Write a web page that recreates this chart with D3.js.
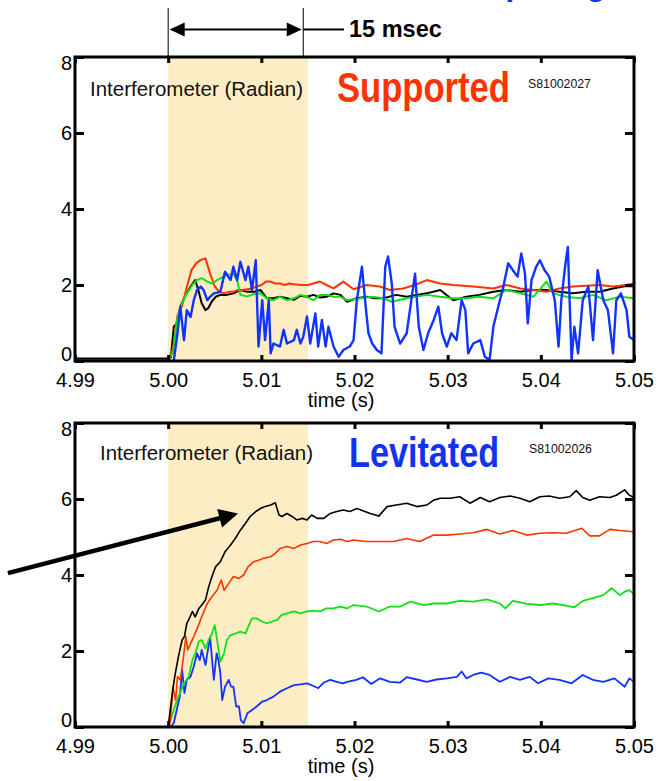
<!DOCTYPE html>
<html>
<head>
<meta charset="utf-8">
<script src="https://cdn.jsdelivr.net/npm/d3@7/dist/d3.min.js"></script>
<style>
body { margin: 0; background: #fff; }
svg { display: block; font-family: "Liberation Sans", Arial, Helvetica, sans-serif; }
</style>
</head>
<body>
<svg></svg>
<script>
let width = 661, height = 781;

// time axis (s) and interferometer axis (radian)
const xTicks = [4.99, 5.00, 5.01, 5.02, 5.03, 5.04, 5.05];
const xTickLabels = ["4.99", "5.00", "5.01", "5.02", "5.03", "5.04", "5.05"];
const yTicks = [0, 2, 4, 6, 8];
const yTickLabels = ["0", "2", "4", "6", "8"];
const shadeWindow = [5.000, 5.015];

// series: [ms after 5.000 s, phase (radian)]
const preTrigger = [[-10, 0.06], [0, 0.06]];

const supBlack = [[0,0.06],[0.3,0.1],[0.6,0.9],[1.0,1.0],[1.3,1.43],[1.8,1.7],[2.4,1.96],[2.9,2.13],[3.2,1.9],[3.6,1.52],[4.0,1.34],[4.3,1.39],[4.7,1.57],[5.1,1.69],[5.6,1.74],[6.3,1.74],[7.0,1.78],[7.75,1.87],[8.5,1.82],[9.2,1.82],[9.9,1.87],[10.6,1.65],[11.3,1.65],[12.0,1.69],[12.75,1.65],[13.5,1.61],[14.2,1.72],[14.9,1.69],[15.6,1.74],[16.3,1.67],[17.0,1.69],[17.75,1.78],[18.5,1.74],[19.2,1.56],[20.2,1.65],[21.3,1.69],[22.2,1.65],[23.1,1.65],[24.5,1.74],[25.6,1.69],[26.7,1.74],[27.75,1.78],[29.2,1.87],[30.6,1.6],[32.0,1.69],[33.4,1.74],[34.9,1.82],[36.3,1.87],[37.8,1.82],[39.2,1.87],[40.6,1.87],[42.0,1.82],[43.4,1.78],[44.9,1.82],[46.3,1.82],[47.75,1.91],[49.1,1.97],[50,1.97]];
const supRed = [[0,0.05],[0.5,0.3],[1.0,1.2],[1.5,1.45],[2.0,1.95],[2.5,2.39],[3.0,2.57],[3.5,2.66],[4.0,2.7],[4.5,2.3],[5.0,1.96],[5.5,1.82],[6.0,1.78],[6.5,1.82],[7.0,1.82],[7.5,1.87],[8.0,1.87],[8.5,1.89],[9.0,1.91],[9.5,1.96],[10.0,2.0],[10.5,2.09],[11.0,2.09],[11.5,2.04],[12.0,2.04],[12.5,2.0],[13.0,2.04],[13.5,2.02],[14.2,2.0],[15.0,2.0],[16.3,2.09],[17.0,2.0],[17.75,1.91],[18.8,2.09],[19.9,1.89],[21.3,2.0],[22.7,1.96],[23.8,1.87],[25.2,1.91],[26.5,2.0],[27.75,2.13],[29.2,2.04],[30.6,2.0],[32.75,1.96],[34.9,1.91],[36.3,2.0],[37.8,1.91],[39.2,1.87],[40.6,1.82],[42.0,1.91],[43.4,1.96],[44.9,1.98],[46.3,2.0],[47.75,1.96],[49.1,2.0],[50,2.04]];
const supGreen = [[0,0.05],[0.5,0.2],[1.0,1.17],[1.5,1.52],[2.0,1.78],[2.6,2.0],[3.1,2.13],[3.6,2.18],[4.2,2.09],[4.7,2.04],[5.25,2.13],[5.8,2.2],[6.3,2.26],[7.0,2.3],[7.4,2.13],[7.75,1.74],[8.5,1.7],[9.2,1.76],[9.9,1.78],[10.6,1.65],[11.3,1.6],[12.0,1.69],[12.75,1.6],[13.5,1.65],[14.2,1.74],[14.9,1.69],[15.6,1.6],[16.3,1.74],[17.0,1.74],[17.75,1.69],[18.5,1.69],[19.2,1.6],[20.6,1.65],[21.9,1.69],[23.1,1.65],[24.0,1.56],[25.6,1.65],[27.75,1.74],[29.2,1.69],[30.6,1.65],[32.0,1.65],[33.4,1.69],[34.9,1.65],[36.3,1.87],[37.8,1.78],[39.2,1.69],[40.6,2.09],[41.3,1.78],[42.75,1.69],[44.1,1.65],[45.6,1.74],[47.0,1.6],[48.5,1.69],[50,1.65]];
const supBlue = [[0.6,0],[1.0,0.73],[1.3,1.43],[1.7,0.55],[2.0,1.34],[2.4,1.16],[2.75,1.6],[3.1,1.87],[3.5,1.96],[3.8,1.87],[4.2,1.6],[4.5,1.69],[4.9,1.78],[5.6,1.82],[6.1,2.35],[6.7,2.13],[7.0,2.48],[7.4,2.13],[7.75,2.61],[8.3,2.13],[8.6,2.48],[9.0,1.87],[9.4,2.65],[9.7,0.38],[10.1,1.6],[10.4,0.55],[10.8,1.6],[11.0,0.2],[11.3,0.46],[12.0,0.38],[12.4,0.82],[12.75,0.46],[13.5,0.55],[13.8,0.82],[14.2,0.46],[14.5,0.64],[14.9,1.17],[15.25,0.46],[15.8,1.25],[16.1,0.38],[16.5,1.08],[16.9,0.38],[17.2,0.9],[17.75,0.38],[18.3,0.11],[18.8,0.29],[19.5,0.38],[19.9,0.55],[20.25,1.6],[20.8,2.48],[21.2,1.43],[21.5,0.73],[21.9,0.46],[22.4,0.29],[22.9,0.2],[23.3,2.48],[23.6,2.75],[24.0,2.04],[24.3,0.9],[24.9,0.46],[25.6,0.73],[26.1,1.6],[26.5,2.3],[26.9,0.9],[27.4,0.29],[27.9,0.73],[28.5,1.08],[29.0,1.43],[29.4,0.73],[29.9,0.38],[30.4,0.73],[30.95,0.55],[31.5,1.6],[31.9,1.34],[32.2,0.2],[32.75,0.46],[33.5,0.55],[34.0,0.11],[34.5,0.03],[34.9,0.9],[35.6,1.6],[35.9,1.87],[36.5,2.57],[37.0,2.39],[37.5,2.22],[37.9,2.83],[38.3,2.3],[38.6,0.99],[39.0,2.13],[39.5,2.48],[39.9,2.65],[40.4,2.39],[40.9,2.22],[41.5,1.6],[41.9,0.38],[42.2,1.6],[42.6,2.48],[42.9,3.0],[43.3,0.03],[43.6,0.9],[44.0,0.2],[44.5,1.6],[45.1,1.96],[45.6,0.55],[46.1,2.39],[46.7,1.6],[47.2,1.34],[47.75,0.2],[48.1,1.6],[48.6,1.78],[49.2,1.34],[49.5,0.64],[50,0.55]];

const levBlack = [[0,0],[0.4,0.8],[0.7,1.32],[1.1,1.85],[1.5,2.29],[1.75,2.38],[2.0,2.73],[2.2,2.82],[2.6,3.04],[2.9,2.9],[3.3,3.12],[3.6,3.21],[4.0,3.34],[4.35,3.69],[4.7,3.96],[5.1,4.22],[5.6,4.35],[6.1,4.61],[6.7,4.79],[7.2,4.96],[7.75,5.18],[8.3,5.36],[8.8,5.54],[9.4,5.67],[9.9,5.75],[10.4,5.8],[11.0,5.84],[11.5,5.9],[11.9,5.58],[12.2,5.54],[12.75,5.62],[13.3,5.54],[13.8,5.45],[14.4,5.49],[14.9,5.45],[15.4,5.58],[16.0,5.49],[16.7,5.49],[17.4,5.62],[18.1,5.67],[18.8,5.71],[19.5,5.67],[20.25,5.75],[21.7,5.62],[22.6,5.55],[23.5,5.8],[24.5,5.84],[25.6,5.89],[26.7,5.8],[27.75,5.84],[28.5,5.97],[29.2,6.02],[30.25,6.02],[31.3,6.06],[32.4,5.89],[33.5,6.04],[34.5,5.93],[35.6,6.04],[36.7,6.08],[37.75,6.02],[38.8,5.93],[39.9,6.06],[40.9,6.08],[42.0,6.02],[43.1,6.06],[43.8,6.22],[44.5,6.04],[45.25,5.97],[46.3,6.06],[47.4,6.04],[48.1,6.1],[49.0,6.24],[49.5,6.1],[50,6.04]];
const levRed = [[0,0],[0.25,0.18],[0.5,1.06],[0.8,0.71],[1.0,1.32],[1.3,1.24],[1.6,1.76],[1.9,2.38],[2.1,2.03],[2.4,2.2],[2.75,2.38],[3.2,2.64],[3.6,2.9],[4.2,3.25],[4.7,3.43],[5.25,3.6],[5.7,3.87],[6.0,3.6],[6.5,3.78],[7.0,3.96],[7.6,3.91],[8.1,4.0],[8.6,4.22],[9.2,4.35],[9.7,4.39],[10.25,4.44],[11.0,4.48],[11.5,4.57],[12.0,4.7],[12.75,4.75],[13.5,4.7],[14.2,4.79],[14.9,4.83],[15.6,4.88],[16.3,4.88],[17.0,4.83],[17.75,4.92],[18.5,4.94],[19.2,4.88],[19.9,4.92],[21.3,4.88],[22.75,4.88],[24.2,4.88],[25.6,4.96],[27.0,4.88],[28.5,5.05],[29.9,5.05],[31.3,5.08],[32.75,5.11],[34.2,5.2],[35.6,5.08],[37.0,5.17],[38.5,5.05],[39.9,5.1],[41.3,5.11],[42.75,5.1],[44.4,5.23],[45.25,5.03],[46.3,5.03],[47.4,5.2],[48.5,5.17],[50,5.14]];
const levGreen = [[0,0],[0.25,0.18],[0.6,0.45],[1.1,0.8],[1.7,1.15],[2.2,1.32],[2.6,1.76],[2.9,1.94],[3.3,2.25],[3.6,2.29],[4.0,2.07],[4.35,2.29],[4.7,2.46],[5.0,2.68],[5.25,2.29],[5.6,1.72],[6.0,1.94],[6.3,2.29],[6.7,2.42],[7.2,2.46],[7.75,2.51],[8.3,2.46],[8.6,2.64],[9.0,2.86],[9.5,2.86],[10.1,2.77],[10.6,2.73],[11.1,2.77],[11.7,2.82],[12.2,2.95],[12.75,2.99],[13.5,3.04],[14.2,2.99],[14.9,3.04],[15.6,3.06],[16.3,3.04],[17.0,3.12],[17.75,3.12],[18.5,3.17],[19.2,3.12],[19.9,3.21],[21.3,3.17],[22.6,3.04],[23.8,3.17],[24.9,3.17],[26.0,3.3],[27.4,3.21],[28.5,3.25],[29.9,3.25],[31.3,3.32],[32.75,3.3],[34.2,3.36],[35.6,3.25],[36.2,3.12],[37.0,3.32],[38.5,3.24],[39.9,3.21],[41.3,3.25],[42.4,3.21],[43.6,3.15],[44.5,3.32],[45.6,3.39],[46.7,3.47],[47.6,3.65],[48.5,3.47],[49.0,3.56],[49.5,3.6],[50,3.5]];
const levBlue = [[0,0],[0.25,0],[0.6,0.1],[1.0,0.54],[1.25,0.8],[1.5,1.5],[1.75,0.89],[2.0,1.24],[2.4,1.32],[2.75,1.59],[3.1,1.94],[3.4,1.76],[3.6,2.03],[4.0,1.63],[4.5,2.38],[4.9,1.24],[5.2,1.94],[5.4,1.76],[5.6,1.41],[5.8,0.71],[6.1,1.06],[6.5,1.24],[6.75,1.06],[7.0,1.06],[7.3,0.54],[7.6,0.54],[7.8,0.18],[8.1,0.1],[8.5,0.36],[9.0,0.45],[9.5,0.54],[10.1,0.67],[10.6,0.71],[11.3,0.8],[12.0,0.93],[12.75,1.02],[13.5,1.1],[14.2,1.12],[14.9,1.15],[15.6,1.08],[16.1,1.02],[16.7,1.17],[17.4,1.24],[18.1,1.19],[18.75,1.15],[19.2,1.19],[20.2,1.24],[20.9,1.31],[21.8,1.13],[22.75,1.28],[23.8,1.19],[24.9,1.17],[25.6,1.31],[26.7,1.25],[27.75,1.19],[28.8,1.25],[29.9,1.28],[31.0,1.32],[31.5,1.46],[32.0,1.28],[32.75,1.37],[33.6,1.43],[34.5,1.37],[35.6,1.19],[36.7,1.32],[37.75,1.24],[38.8,1.32],[39.7,1.15],[40.8,1.28],[42.0,1.24],[43.3,1.15],[44.5,1.37],[45.6,1.24],[46.7,1.19],[47.9,1.28],[49.0,1.06],[49.5,1.28],[50,1.19]];

// annotation points in data units
const spanMarks = [5.000, 5.0145];
const arrowFrom = [4.9828, 4.05], arrowTo = [5.0075, 5.62];

let svg = d3.select("svg")
    .attr("width", width)
    .attr("height", height)
    .attr("viewBox", "0 0 " + width + " " + height);

svg.append("rect").attr("width", width).attr("height", height).attr("fill", "#fff");

let x = d3.scaleLinear().domain([4.99, 5.05]).range([75, 634]);
let tOf = ms => 5 + ms / 1000;

let panels = [
    {id: "sup", top: 57, bottom: 361, series: [
        {data: supBlack, color: "#000000", w: 2},
        {data: supRed, color: "#ff3300", w: 2},
        {data: supGreen, color: "#11e011", w: 2},
        {data: supBlue, color: "#1133ff", w: 2.4}],
     pre: preTrigger,
     labelX: 90, labelY: 96,
     title: "Supported", titleColor: "#ff3300", titleX: 337, titleY: 102, titleSize: 34.6,
     shot: "S81002027", shotX: 528, shotY: 88},
    {id: "lev", top: 423, bottom: 727, series: [
        {data: levBlue, color: "#1133ff", w: 1.8},
        {data: levGreen, color: "#11e011", w: 1.8},
        {data: levRed, color: "#ff3300", w: 1.6},
        {data: levBlack, color: "#000000", w: 1.6}],
     pre: null,
     labelX: 100, labelY: 460,
     title: "Levitated", titleColor: "#1133ee", titleX: 349, titleY: 467, titleSize: 34.2,
     shot: "S81002026", shotX: 529, shotY: 453}
];

panels.forEach(p => {
    let y = d3.scaleLinear().domain([0, 8]).range([p.bottom, p.top]);
    let g = svg.append("g").attr("id", p.id);

    g.append("clipPath").attr("id", "clip-" + p.id)
        .append("rect")
        .attr("x", x(4.99)).attr("y", p.top)
        .attr("width", x(5.05) - x(4.99)).attr("height", p.bottom - p.top);

    // 15 ms window
    g.append("rect")
        .attr("x", x(shadeWindow[0]))
        .attr("y", p.top)
        .attr("width", x(shadeWindow[1]) - x(shadeWindow[0]))
        .attr("height", p.bottom - p.top)
        .attr("fill", "#fcedc4");

    let line = d3.line()
        .x(d => x(tOf(d[0])))
        .y(d => y(d[1]));

    let lines = g.append("g").attr("clip-path", "url(#clip-" + p.id + ")");
    if (p.pre) {
        lines.append("path")
            .attr("d", line(p.pre))
            .attr("fill", "none")
            .attr("stroke", "#000")
            .attr("stroke-width", 2.2);
    }
    lines.selectAll("path.trace")
        .data(p.series)
        .enter()
        .append("path")
        .attr("class", "trace")
        .attr("d", d => line(d.data))
        .attr("fill", "none")
        .attr("stroke", d => d.color)
        .attr("stroke-width", d => d.w)
        .attr("stroke-linejoin", "round");

    // axes, ticks pointing inward
    let left = g.append("g")
        .attr("transform", "translate(" + x(4.99) + ",0)")
        .call(d3.axisLeft(y).tickValues(yTicks).tickFormat((d, i) => yTickLabels[i])
            .tickSizeInner(-9).tickSizeOuter(0).tickPadding(3));
    left.selectAll("text")
        .attr("dy", (d, i) => i === 0 ? "-0.05em" : (i === yTicks.length - 1 ? "0.6em" : "0.34em"));

    g.append("g")
        .attr("transform", "translate(" + x(5.05) + ",0)")
        .call(d3.axisRight(y).tickValues(yTicks).tickFormat("")
            .tickSizeInner(-9).tickSizeOuter(0));

    g.append("g")
        .attr("transform", "translate(0," + p.top + ")")
        .call(d3.axisTop(x).tickValues(xTicks).tickFormat("")
            .tickSizeInner(-6).tickSizeOuter(0));

    g.append("g")
        .attr("transform", "translate(0," + p.bottom + ")")
        .call(d3.axisBottom(x).tickValues(xTicks).tickFormat((d, i) => xTickLabels[i])
            .tickSizeInner(-6).tickSizeOuter(0).tickPadding(12));

    g.selectAll(".domain").remove();
    g.selectAll(".tick line").attr("stroke", "#000").attr("stroke-width", 3);
    g.selectAll(".tick text")
        .attr("font-size", 20)
        .attr("font-family", "'Liberation Sans', Arial, sans-serif")
        .attr("fill", "#000");

    g.append("rect")
        .attr("x", x(4.99)).attr("y", p.top)
        .attr("width", x(5.05) - x(4.99)).attr("height", p.bottom - p.top)
        .attr("fill", "none")
        .attr("stroke", "#000")
        .attr("stroke-width", 3);

    g.append("text")
        .attr("x", 341).attr("y", p.bottom + 46)
        .attr("text-anchor", "middle")
        .attr("font-size", 20)
        .text("time (s)");

    g.append("text")
        .attr("x", p.labelX).attr("y", p.labelY)
        .attr("font-size", 20.5)
        .attr("fill", "#111")
        .text("Interferometer (Radian)");

    // condensed bold title: narrow width, tall glyphs
    g.append("text")
        .attr("transform", "translate(" + p.titleX + "," + p.titleY + ") scale(1,1.25)")
        .attr("font-size", p.titleSize)
        .attr("font-weight", "bold")
        .attr("fill", p.titleColor)
        .text(p.title);

    g.append("text")
        .attr("x", p.shotX).attr("y", p.shotY)
        .attr("font-size", 12.3)
        .attr("fill", "#111")
        .text(p.shot);

    if (p.id === "lev") {
        // big arrow pointing at the black trace
        let x0 = x(arrowFrom[0]), y0 = y(arrowFrom[1]);
        let x1 = x(arrowTo[0]), y1 = y(arrowTo[1]);
        let ang = Math.atan2(y1 - y0, x1 - x0);
        let headLen = 19, headHalf = 9.5;
        let bx = x1 - headLen * Math.cos(ang), by = y1 - headLen * Math.sin(ang);
        svg.append("line")
            .attr("x1", x0).attr("y1", y0)
            .attr("x2", bx + 2 * Math.cos(ang)).attr("y2", by + 2 * Math.sin(ang))
            .attr("stroke", "#000")
            .attr("stroke-width", 4.5);
        svg.append("path")
            .attr("d", "M" + x1 + "," + y1 +
                "L" + (bx - headHalf * Math.sin(ang)) + "," + (by + headHalf * Math.cos(ang)) +
                "L" + (bx + headHalf * Math.sin(ang)) + "," + (by - headHalf * Math.cos(ang)) + "Z")
            .attr("fill", "#000");
    }
});

// 15 msec marker above the top panel
let ann = svg.append("g");
spanMarks.forEach(t => {
    ann.append("line")
        .attr("x1", x(t)).attr("x2", x(t))
        .attr("y1", 8).attr("y2", 56)
        .attr("stroke", "#000").attr("stroke-width", 1);
});
let ay = 29.5, ax0 = x(spanMarks[0]) + 1.5, ax1 = x(spanMarks[1]) - 1.5;
ann.append("line")
    .attr("x1", ax0 + 10).attr("x2", ax1 - 10)
    .attr("y1", ay).attr("y2", ay)
    .attr("stroke", "#000").attr("stroke-width", 2);
ann.append("path")
    .attr("d", "M" + ax0 + "," + ay + "l15,-7l0,14Z")
    .attr("fill", "#000");
ann.append("path")
    .attr("d", "M" + ax1 + "," + ay + "l-15,-7l0,14Z")
    .attr("fill", "#000");
ann.append("line")
    .attr("x1", x(spanMarks[1])).attr("x2", 344)
    .attr("y1", ay).attr("y2", ay)
    .attr("stroke", "#000").attr("stroke-width", 2);
ann.append("text")
    .attr("x", 349).attr("y", 37)
    .attr("font-size", 23.5)
    .attr("font-weight", "bold")
    .text("15 msec");

// slide title cut off by the top edge
svg.append("text")
    .attr("x", 432).attr("y", -5)
    .attr("font-size", 33)
    .attr("font-weight", "bold")
    .attr("fill", "#1133ff")
    .text("Comparing");
</script>
</body>
</html>
